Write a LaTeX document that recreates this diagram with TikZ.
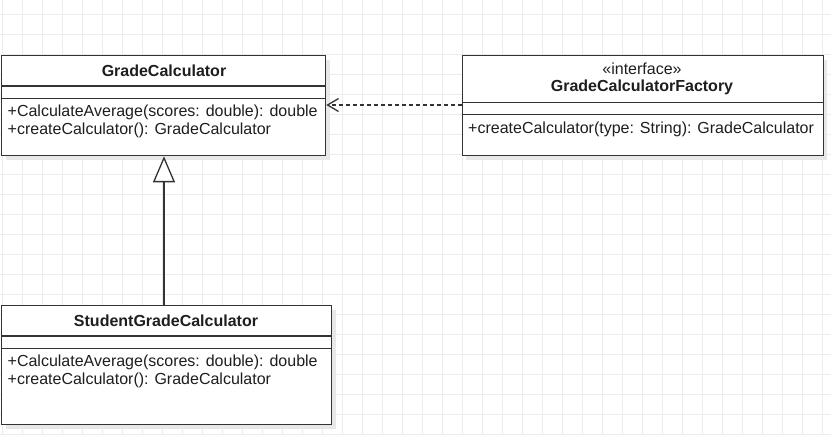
\documentclass[tikz,border=0pt]{standalone}
\usepackage{fontspec}
\setmainfont{Liberation Sans}
\usetikzlibrary{arrows.meta,shadows}
\definecolor{gridc}{RGB}{236,236,236}
\definecolor{linec}{RGB}{51,51,51}
\definecolor{txtc}{RGB}{30,30,30}
\begin{document}
\begin{tikzpicture}[x=1pt,y=-1pt,
  cls/.style={draw=linec, line width=1.3pt, fill=white, inner sep=0pt, anchor=north west,
    general shadow={fill=black!9, shadow xshift=4pt, shadow yshift=-4pt}},
  sep/.style={draw=linec, line width=1.3pt},
  ttl/.style={text=txtc, inner sep=0pt, font=\fontsize{16}{17}\selectfont\bfseries},
  stereo/.style={text=txtc, inner sep=0pt, font=\fontsize{16}{17}\selectfont},
  meth/.style={text=txtc, inner sep=0pt, anchor=west, align=left, font=\fontsize{16}{17.3}\selectfont},
  conn/.style={draw=linec, line width=1.3pt}
]
\useasboundingbox (0,0) rectangle (831,435);
\fill[white] (0,0) rectangle (831,435);
% grid
\foreach \gx in {2,22,...,822} \draw[gridc, line width=1pt] (\gx,0) -- (\gx,435);
\foreach \gy in {15,35,...,435} \draw[gridc, line width=1pt] (0,\gy) -- (831,\gy);

% GradeCalculator
\node[cls, minimum width=324pt, minimum height=100pt] (gc) at (1,55) {};
\draw[sep] (gc.west |- 0,86) -- (gc.east |- 0,86);
\draw[sep] (gc.west |- 0,98.5) -- (gc.east |- 0,98.5);
\node[ttl] (gct) at (164,71) {GradeCalculator};
\node[meth] (gcm) at (7.5,121.5) {+CalculateAverage(scores: double): double\\+createCalculator(): GradeCalculator};

% GradeCalculatorFactory
\node[cls, minimum width=361pt, minimum height=100pt] (gcf) at (461.5,55) {};
\draw[sep] (gcf.west |- 0,102.3) -- (gcf.east |- 0,102.3);
\draw[sep] (gcf.west |- 0,114.7) -- (gcf.east |- 0,114.7);
\node[stereo] (gcfs) at (642,69) {«interface»};
\node[ttl] (gcft) at (642,87.7) {GradeCalculatorFactory};
\node[meth] (gcfm) at (468,129) {+createCalculator(type: String): GradeCalculator};

% StudentGradeCalculator
\node[cls, minimum width=330pt, minimum height=119pt] (sgc) at (1,305) {};
\draw[sep] (sgc.west |- 0,336) -- (sgc.east |- 0,336);
\draw[sep] (sgc.west |- 0,348.7) -- (sgc.east |- 0,348.7);
\node[ttl] (sgct) at (166,321) {StudentGradeCalculator};
\node[meth] (sgcm) at (7.5,371.5) {+CalculateAverage(scores: double): double\\+createCalculator(): GradeCalculator};

% dependency (dashed)
\draw[conn, dash pattern=on 4pt off 3pt, -{Straight Barb[length=11pt,width=13pt,line width=1.3pt]}]
  (gcf.west |- 0,105) -- (gc.east |- 0,105);
% inheritance
\draw[conn, -{Triangle[open,length=26pt,width=22pt,fill=white]}]
  (sgc.north -| 164,0) -- (gc.south -| 164,0);
\end{tikzpicture}
\end{document}
